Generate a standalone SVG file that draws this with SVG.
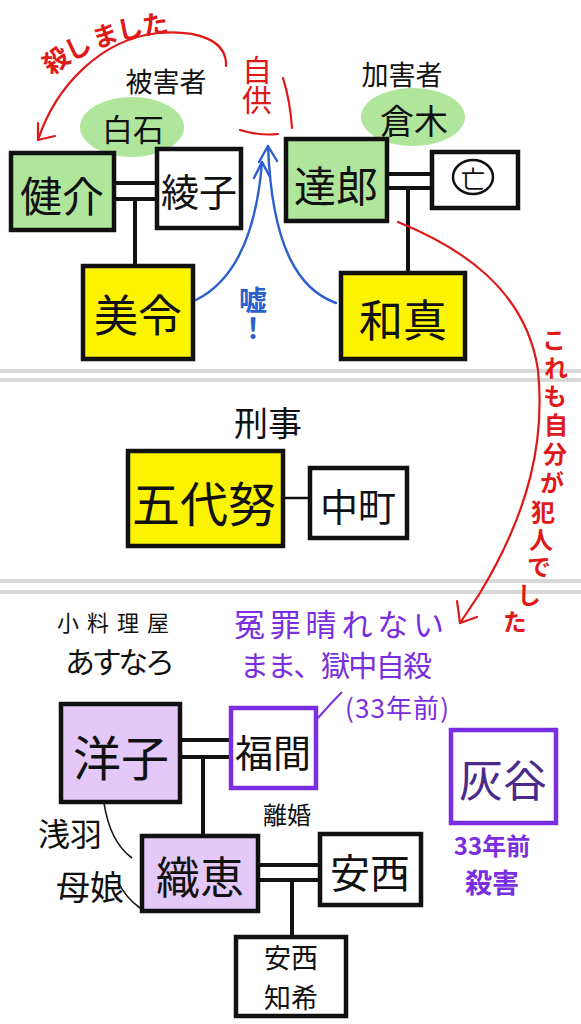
<svg xmlns="http://www.w3.org/2000/svg" width="581" height="1024" viewBox="0 0 581 1024">
<style>
text{font-family:"Noto Sans CJK JP","Noto Sans CJK SC",sans-serif;text-anchor:middle;dominant-baseline:central;}
.vt{writing-mode:vertical-rl;}
.box{stroke:#111;stroke-width:4.5;}
.pbox{stroke:#7a2ee0;stroke-width:4.5;fill:#fff;}
.green{fill:#b0e69c;}
.yellow{fill:#fcf300;}
.lav{fill:#e4c8f7;}
.white{fill:#fff;}
.ln{stroke:#111;stroke-width:4;fill:none;}
.thin{stroke:#111;stroke-width:1.6;fill:none;}
.red{stroke:#e01818;stroke-width:2.2;fill:none;stroke-linecap:round;stroke-linejoin:round;}
.blue{stroke:#2a5fd0;stroke-width:2.4;fill:none;stroke-linecap:round;stroke-linejoin:round;}
.sep{stroke:#d8d8d8;stroke-width:4;}
.nm{fill:#111;}
.rt{fill:#e01818;}
.kp{fill:#e01818;font-weight:700;font-size:26px;text-anchor:start;}
.vr{fill:#e01818;font-size:24px;font-weight:700;writing-mode:vertical-rl;}
.pt{fill:#7a2ee0;}
.bt{fill:#2a5fd0;}
</style>
<defs>
<path id="killPath" d="M43,68 Q90,24 192,18"/>
</defs>
<rect width="581" height="1024" fill="#fff"/>
<g id="separators">
<line class="sep" x1="0" y1="371" x2="581" y2="371"/>
<line class="sep" x1="0" y1="380" x2="581" y2="380"/>
<line class="sep" x1="0" y1="581" x2="581" y2="581"/>
<line class="sep" x1="0" y1="592" x2="581" y2="592"/>
</g>
<g id="families">
<ellipse id="shiraishi" class="green" cx="132" cy="127" rx="52" ry="30"/>
<ellipse id="kuraki" class="green" cx="413" cy="117" rx="52" ry="29"/>
</g>
<g id="connectors">
<line class="ln" x1="113" y1="183" x2="157" y2="183"/>
<line class="ln" x1="113" y1="199" x2="157" y2="199"/>
<line class="ln" x1="135" y1="199" x2="135" y2="266"/>
<line class="ln" x1="387" y1="174" x2="432" y2="174"/>
<line class="ln" x1="387" y1="188" x2="432" y2="188"/>
<line class="ln" x1="408" y1="188" x2="408" y2="273"/>
<line class="ln" x1="283" y1="498" x2="310" y2="498" style="stroke-width:2.5"/>
<line class="ln" x1="180" y1="740" x2="231" y2="740"/>
<line class="ln" x1="180" y1="757" x2="231" y2="757"/>
<line class="ln" x1="203" y1="757" x2="203" y2="835"/>
<line class="ln" x1="258" y1="865" x2="320" y2="865"/>
<line class="ln" x1="258" y1="880" x2="320" y2="880"/>
<line class="ln" x1="292" y1="880" x2="292" y2="937"/>
<path class="red" d="M226,66 C227,40 198,30 158,33 C102,39 56,85 38,140"/>
<path class="red" d="M38,123 L38,140 L55,136"/>
<path class="red" d="M398,222 C462,248 526,290 538,370 C545,440 530,510 480,593 L460,623"/>
<path class="red" d="M457,601 L460,623 L477,617"/>
<path class="blue" d="M196,300 C226,285 255,250 262,162"/>
<path class="blue" d="M254,178 L262,162 L270,177"/>
<path class="blue" d="M336,303 C300,290 272,250 268,146"/>
<path class="blue" d="M259,162 L268,146 L277,161"/>
<path class="red" d="M240,130 Q260,136 278,134"/>
<path class="red" d="M283,78 Q290,100 292,128"/>
<path d="M318,718 Q330,704 342,692" stroke="#7a2ee0" stroke-width="2" fill="none"/>
<path class="thin" d="M104,803 Q110,842 132,858"/>
<path class="thin" d="M118,882 Q126,898 140,908"/>
</g>
<g id="labels">
<text class="kp"><textPath href="#killPath" startOffset="2">殺し</textPath></text>
<text class="kp"><textPath href="#killPath" startOffset="58">ました</textPath></text>
<text class="nm" x="166" y="80" font-size="27">被害者</text>
<text class="nm" x="402" y="73" font-size="27">加害者</text>
<text class="rt vt" x="257" y="85" font-size="30">自供</text>
<text class="bt vt" x="253" y="314" font-size="28" font-weight="700">嘘！</text>
<text class="vr"><tspan x="554" y="340">こ</tspan><tspan x="556" y="368">れ</tspan><tspan x="555" y="396">も</tspan><tspan x="556" y="425">自</tspan><tspan x="555" y="454">分</tspan><tspan x="552" y="483">が</tspan><tspan x="543" y="512">犯</tspan><tspan x="541" y="540">人</tspan><tspan x="539" y="567">で</tspan><tspan x="529" y="595">し</tspan><tspan x="515" y="622">た</tspan></text>
<text class="nm" x="268" y="421" font-size="34">刑事</text>
<text class="nm" x="113" y="621" font-size="22" textLength="112">小料理屋</text>
<text class="nm" x="120" y="660" font-size="30" textLength="110">あすなろ</text>
<text class="pt" x="339" y="622" font-size="31" textLength="210">冤罪晴れない</text>
<text class="pt" x="336" y="664" font-size="29" textLength="192">まま、獄中自殺</text>
<text class="pt" x="397" y="706" font-size="26" textLength="104">(33年前)</text>
<text class="pt" x="492" y="844" font-size="24" font-weight="700">33年前</text>
<text class="pt" x="492" y="881" font-size="27" font-weight="700">殺害</text>
<text class="nm" x="287" y="813" font-size="24">離婚</text>
<text class="nm" x="70" y="832" font-size="32">浅羽</text>
<text class="nm" x="90" y="885" font-size="34">母娘</text>
</g>
<g id="shiraishi-label"><text class="nm" x="133" y="127" font-size="31">白石</text></g>
<g id="kuraki-label"><text class="nm" x="414" y="119" font-size="34">倉木</text></g>
<g id="kensuke"><rect class="box green" x="11" y="153" width="103" height="77"/><text class="nm" x="62" y="193" font-size="42">健介</text></g>
<g id="ayako"><rect class="box white" x="157" y="149" width="84" height="79"/><text class="nm" x="199" y="189" font-size="38">綾子</text></g>
<g id="mirei"><rect class="box yellow" x="83" y="266" width="110" height="93"/><text class="nm" x="138" y="313" font-size="44">美令</text></g>
<g id="tatsuro"><rect class="box green" x="286" y="139" width="101" height="82"/><text class="nm" x="336" y="183" font-size="42">達郎</text></g>
<g id="wife"><rect class="box white" x="432" y="152" width="86" height="56"/><ellipse cx="473" cy="177" rx="20" ry="17" stroke="#111" stroke-width="2.5" fill="none"/><text class="nm" x="473" y="177" font-size="24">亡</text></g>
<g id="kazuma"><rect class="box yellow" x="341" y="273" width="124" height="86"/><text class="nm" x="403" y="318" font-size="44">和真</text></g>
<g id="godai"><rect class="box yellow" x="128" y="451" width="155" height="95"/><text class="nm" x="204" y="501" font-size="48">五代努</text></g>
<g id="nakamachi"><rect class="box white" x="310" y="468" width="97" height="70"/><text class="nm" x="358" y="504" font-size="38">中町</text></g>
<g id="yoko"><rect class="box lav" x="61" y="704" width="119" height="98"/><text class="nm" x="121" y="755" font-size="48">洋子</text></g>
<g id="fukuma"><rect class="pbox" x="231" y="708" width="85" height="80"/><text class="nm" x="273" y="750" font-size="38">福間</text></g>
<g id="haitani"><rect class="pbox" x="451" y="730" width="105" height="93"/><text x="503" y="778" font-size="44" fill="#4a2a8a">灰谷</text></g>
<g id="orie"><rect class="box lav" x="142" y="836" width="116" height="75"/><text class="nm" x="200" y="875" font-size="44">織恵</text></g>
<g id="anzai"><rect class="box white" x="320" y="834" width="101" height="71"/><text class="nm" x="370" y="871" font-size="40">安西</text></g>
<g id="tomoki"><rect class="box white" x="236" y="937" width="110" height="79"/><text class="nm" x="291" y="956" font-size="27">安西</text><text class="nm" x="291" y="996" font-size="27">知希</text></g>
</svg>
